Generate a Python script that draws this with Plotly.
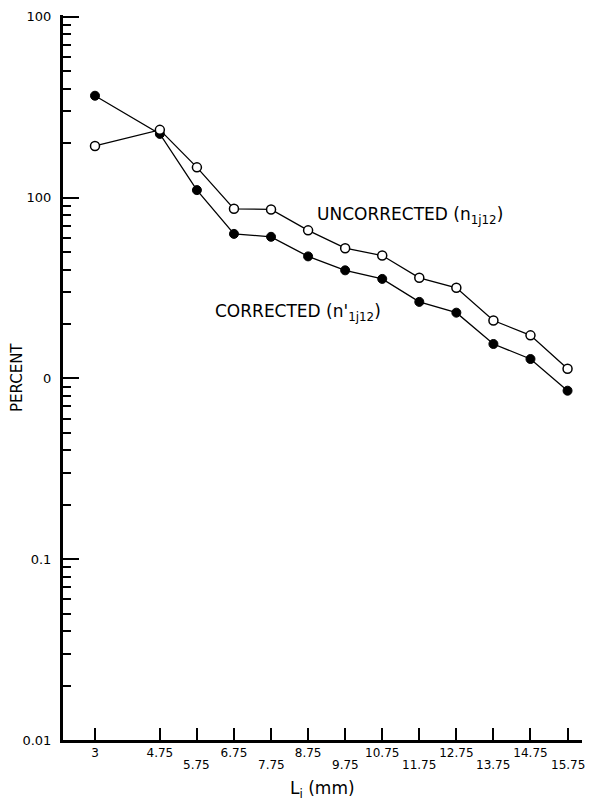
import plotly.graph_objects as go

# Data
L_mm = [3, 4.75, 5.75, 6.75, 7.75, 8.75, 9.75, 10.75, 11.75, 12.75, 13.75, 14.75, 15.75]
x_tick_text = ["3", "4.75", "5.75", "6.75", "7.75", "8.75", "9.75",
               "10.75", "11.75", "12.75", "13.75", "14.75", "15.75"]
corrected = [36.6, 22.5, 11.0, 6.3, 6.07, 4.73, 3.96, 3.55, 2.65, 2.31, 1.55, 1.28, 0.855]
uncorrected = [19.3, 23.7, 14.7, 8.67, 8.6, 6.59, 5.25, 4.78, 3.60, 3.17, 2.09, 1.73, 1.13]
y_tick_vals = [0.01, 0.1, 1, 10, 100]
y_tick_text = ["0.01", "0.1", "0", "100", "100"]

minor_vals = [m * d for d in [0.01, 0.1, 1, 10] for m in range(2, 10)]

# staggered tick label rows
upper_idx = [i for i in range(len(L_mm)) if i == 0 or i % 2 == 1]
lower_idx = [i for i in range(len(L_mm)) if i != 0 and i % 2 == 0]
upper_vals = [L_mm[i] for i in upper_idx]
upper_text = [x_tick_text[i] for i in upper_idx]
lower_vals = [L_mm[i] for i in lower_idx]
lower_text = [x_tick_text[i] for i in lower_idx]

FONT = "DejaVu Sans"

fig = go.Figure()
fig.add_trace(go.Scatter(
    x=L_mm, y=corrected, mode="lines+markers",
    line=dict(color="black", width=1.3),
    marker=dict(color="black", size=9, line=dict(color="black", width=1)),
    showlegend=False))
fig.add_trace(go.Scatter(
    x=L_mm, y=uncorrected, mode="lines+markers",
    line=dict(color="black", width=1.3),
    marker=dict(color="white", size=9, line=dict(color="black", width=1.5)),
    showlegend=False))

annotations = [
    dict(text=t, x=v, xref="x", yref="paper", y=-0.0345, xanchor="center",
         yanchor="middle", showarrow=False, font=dict(family=FONT, size=12))
    for v, t in zip(lower_vals, lower_text)
]
annotations += [
    dict(text="UNCORRECTED (n<sub>1j12</sub>)", xref="paper", yref="paper",
         x=0.4855, y=0.724, xanchor="left", yanchor="middle", showarrow=False,
         font=dict(family=FONT, size=17)),
    dict(text="CORRECTED (n'<sub>1j12</sub>)", xref="paper", yref="paper",
         x=0.289, y=0.590, xanchor="left", yanchor="middle", showarrow=False,
         font=dict(family=FONT, size=17)),
    dict(text="L<sub>i</sub> (mm)", xref="paper", yref="paper",
         x=0.5, y=-0.068, xanchor="center", yanchor="middle", showarrow=False,
         font=dict(family=FONT, size=17)),
    dict(text="PERCENT", xref="paper", yref="paper", textangle=-90,
         x=-0.0886, y=(740 - 378) / 725, xanchor="center", yanchor="middle",
         showarrow=False, font=dict(family=FONT, size=15)),
]

fig.update_layout(
    width=592, height=802,
    margin=dict(l=63, r=10, t=15, b=62),
    plot_bgcolor="white", paper_bgcolor="white",
    font=dict(family=FONT, size=12, color="black"),
    xaxis=dict(
        range=[2.137, 16.14], showgrid=False, zeroline=False,
        showline=True, linecolor="black", linewidth=3,
        tickmode="array", tickvals=upper_vals, ticktext=upper_text,
        ticks="inside", ticklen=12, tickwidth=1.5, tickcolor="black",
        tickfont=dict(family=FONT, size=12), ticklabelstandoff=0,
        minor=dict(tickmode="array", tickvals=lower_vals, ticks="inside",
                   ticklen=12, tickwidth=1.5, tickcolor="black", showgrid=False)),
    yaxis=dict(
        type="log", range=[-2, 2.01], showgrid=False, zeroline=False,
        showline=True, linecolor="black", linewidth=3,
        tickmode="array", tickvals=y_tick_vals, ticktext=y_tick_text,
        ticks="inside", ticklen=16, tickwidth=2, tickcolor="black",
        tickfont=dict(family=FONT, size=13), ticklabelstandoff=6,
        minor=dict(tickmode="array", tickvals=minor_vals, ticks="inside",
                   ticklen=8, tickwidth=1.5, tickcolor="black", showgrid=False)),
    annotations=annotations,
)

fig.write_html("out.html")
